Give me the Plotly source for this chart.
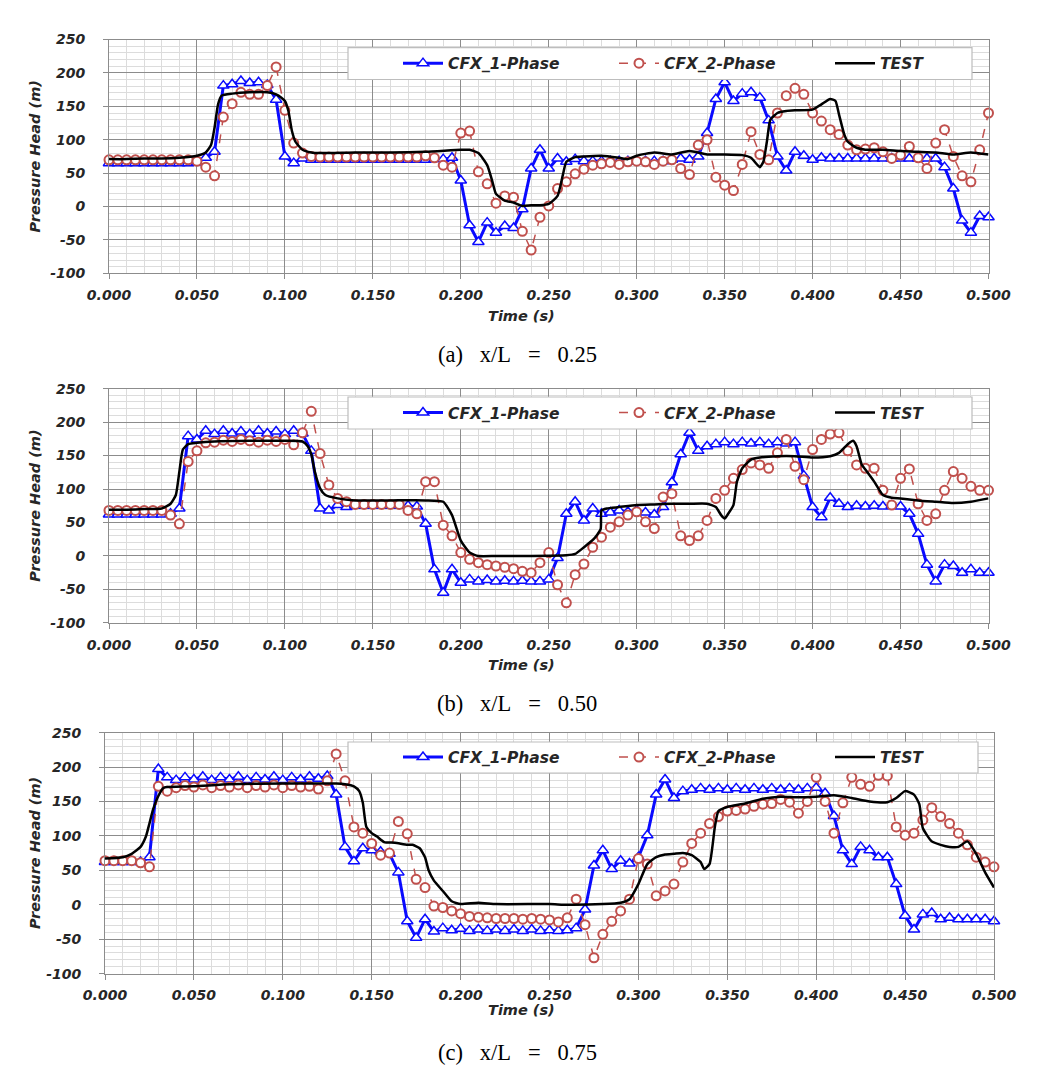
import plotly.graph_objects as go

# ---------------- data ----------------
cfx_time = [round(i * 0.005, 3) for i in range(101)]

blue_a = [65, 65, 65, 65, 65, 65, 65, 65, 65, 65, 66,
          73, 82, 181, 183, 188, 185, 186, 182, 160, 75, 65, 72,
          70, 70, 70, 70, 70, 70, 70, 70, 70, 70, 70, 70, 70, 70, 71, 71,
          73, 39, -28, -53, -24, -39, -29, -32, -4, 57, 85, 57, 72, 67, 71,
          68, 68, 68, 68, 68, 68, 68, 68, 68, 68, 70, 72,
          70, 75, 110, 161, 186, 158, 169, 171, 163, 129, 75, 54, 82, 76, 70, 73,
          72, 72, 72, 72, 72, 72, 72, 72, 72, 72, 72, 72, 72,
          59, 27, -21, -39, -14, -16]
red_a = [70, 70, 70, 70, 70, 70, 70, 70, 70, 70, 68,
         59, 46, 134, 154, 171, 168, 168, 181, 209, 144, 95, 80, 75,
         74, 74, 74, 74, 74, 74, 74, 74, 74, 74, 74, 74, 76,
         73, 62, 59, 110, 113, 52, 34, 5, 16, 14, -37, -65, -16, 1, 27, 37, 49, 56, 62, 64,
         66, 63, 67, 68, 67, 63, 68, 70, 57, 48, 92, 100, 44, 32, 24, 63, 112, 78, 70,
         140, 166, 177, 168, 140, 128, 115, 108, 92, 85, 86, 88, 82, 72, 77, 90, 73, 57,
         95, 115, 75, 46, 37, 85, 140]
test_a_t = [0, 0.01, 0.02, 0.03, 0.04, 0.05, 0.055, 0.058, 0.06, 0.062, 0.064, 0.07, 0.08, 0.09,
            0.095, 0.098, 0.1, 0.102, 0.104, 0.106, 0.11, 0.115, 0.12, 0.14, 0.16, 0.18, 0.2,
            0.205, 0.21, 0.215, 0.218, 0.22, 0.225, 0.23, 0.235, 0.24, 0.245, 0.25, 0.255, 0.258,
            0.26, 0.265, 0.27, 0.28, 0.29, 0.295, 0.3, 0.31, 0.32, 0.33, 0.34, 0.35, 0.36, 0.365,
            0.37, 0.372, 0.374, 0.376, 0.38, 0.385, 0.39, 0.4, 0.405, 0.41, 0.413, 0.415, 0.418,
            0.42, 0.425, 0.43, 0.44, 0.45, 0.46, 0.47, 0.48, 0.49, 0.5]
test_a_v = [71, 71, 72, 72, 73, 76, 81, 92, 118, 153, 166, 169, 171, 171,
            168, 163, 158, 143, 113, 97, 85, 81, 80, 81, 81, 82, 85,
            85, 80, 62, 37, 19, 9, 6, 1, 2, 2, 4, 16, 47,
            67, 74, 75, 76, 73, 71, 76, 81, 78, 83, 78, 78, 77, 73,
            59, 67, 97, 130, 140, 143, 144, 145, 153, 161, 158, 138, 108,
            97, 88, 85, 85, 83, 82, 81, 78, 81, 78]

blue_b = [62, 62, 62, 62, 62, 62, 62, 63,
          71, 179, 174, 187,
          182, 187, 183, 186, 182, 187, 183, 186, 182, 187, 183,
          157, 71, 68, 76, 73,
          75, 75, 75, 75, 75, 75, 75, 74,
          48, -20, -55, -20, -40,
          -35, -38, -36, -38, -37, -38, -37, -38, -38, -35,
          -3, 63, 81, 53, 71, 63,
          65, 68, 66, 68, 65, 62,
          73, 110, 152, 184, 157, 164,
          167, 170, 167, 170, 168, 170, 167, 170, 168, 170,
          120, 73, 58, 87, 78, 73,
          75, 74, 75, 74, 75, 74,
          63, 33, -13, -38, -13, -15, -25, -20, -25, -25]
red_b = [68, 68, 68, 68, 68, 68, 68,
         61, 48, 141, 157, 169,
         170, 173, 171, 174, 172, 170, 173, 171, 174,
         166, 184, 216, 153, 106, 86, 81,
         77, 77, 77, 77, 77, 77,
         68, 63, 111, 111, 46, 30, 5, -5, -10, -13, -15, -17, -19, -23, -25, -10, 5,
         -43, -70, -28, -12, 13, 28, 43, 51, 61, 66, 51, 41, 88, 93, 30, 23, 30, 53, 86,
         98, 116, 129, 139, 136, 131, 154, 174, 134, 114, 159, 174, 182, 184, 157, 136,
         131, 131, 98, 76, 116, 130, 78, 53, 63, 98, 126, 116, 104, 98, 98]
test_b_t = [0, 0.01, 0.02, 0.03, 0.035, 0.038, 0.04, 0.042, 0.045, 0.05, 0.06, 0.08, 0.1, 0.11,
            0.113, 0.115, 0.117, 0.12, 0.123, 0.13, 0.14, 0.16, 0.18, 0.19, 0.195, 0.2, 0.205,
            0.21, 0.22, 0.24, 0.26, 0.265, 0.27, 0.2755, 0.2795, 0.28, 0.283, 0.29, 0.3, 0.31,
            0.32, 0.33, 0.34, 0.345, 0.348, 0.35, 0.352, 0.355, 0.357, 0.36, 0.365, 0.37, 0.38,
            0.39, 0.4, 0.41, 0.415, 0.42, 0.423, 0.425, 0.428, 0.43, 0.435, 0.44, 0.445, 0.45,
            0.46, 0.47, 0.48, 0.49, 0.5]
test_b_v = [69, 69, 70, 71, 78, 91, 126, 159, 167, 169, 171, 172, 172, 171,
            164, 152, 126, 101, 91, 86, 83, 83, 83, 81, 61, 23, 5,
            0, 0, 0, 1, 3, 13, 25, 40, 68, 71, 73, 76, 77,
            78, 78, 78, 73, 61, 56, 63, 76, 111, 131, 144, 147, 149,
            149, 147, 149, 154, 167, 172, 164, 136, 129, 111, 91, 87, 86,
            83, 81, 79, 81, 86]

blue_c = [62, 62, 62, 62, 62,
          69, 197, 185,
          181, 185, 182, 186, 181, 185, 182, 186, 181, 185, 182, 186, 181, 185, 182, 186, 183,
          187, 160, 84, 63, 82, 79, 77, 74, 47, -24, -48, -21, -39, -34,
          -37, -35, -38, -36, -38, -36, -38, -36, -38, -36, -38, -37, -38, -37,
          -34, -7, 57, 79, 52, 64, 60, 69, 101, 160, 182, 155, 165,
          167, 169, 167, 169, 167, 169, 167, 169, 167, 169, 167, 169, 167, 169,
          170, 162, 129, 79, 59, 84, 79, 69, 69, 30, -16, -36, -14, -12, -21, -19, -21,
          -21, -21, -21, -24]
red_c = [64, 64, 64, 64,
         61, 55, 172, 165,
         170, 173, 171, 174, 170, 173, 171, 174, 170, 173, 171, 174, 170, 173, 171, 172,
         168, 180, 219, 180, 113, 104, 89, 72, 75, 121, 103, 37, 25, -2, -4, -9, -13,
         -17, -18, -19, -20, -20, -20, -21, -20, -21, -22, -25,
         -19, 8, -29, -77, -43, -24, -9, 8, 67, 59, 13, 20, 30, 62, 89, 104, 118, 128,
         136, 137, 139, 143, 146, 147, 153, 149, 133, 150, 185, 150, 104, 148, 185, 175,
         172, 188, 187, 113, 101, 104, 123, 141, 128, 118, 104, 87, 69, 62, 55]
test_c_t = [0, 0.01, 0.015, 0.02, 0.023, 0.025, 0.027, 0.03, 0.033, 0.035, 0.05, 0.07, 0.1,
            0.13, 0.135, 0.14, 0.143, 0.145, 0.147, 0.15, 0.153, 0.157, 0.163, 0.17, 0.173,
            0.177, 0.18, 0.182, 0.185, 0.19, 0.195, 0.2, 0.21, 0.22, 0.25, 0.26, 0.28, 0.29,
            0.295, 0.3, 0.305, 0.31, 0.315, 0.32, 0.325, 0.33, 0.335, 0.337, 0.34, 0.343,
            0.345, 0.35, 0.36, 0.37, 0.38, 0.39, 0.4, 0.41, 0.42, 0.43, 0.44, 0.445, 0.45,
            0.455, 0.458, 0.46, 0.465, 0.47, 0.475, 0.48, 0.485, 0.49, 0.495, 0.5]
test_c_v = [67, 69, 74, 84, 99, 118, 138, 158, 170, 171, 172, 175, 176,
            176, 175, 172, 165, 148, 113, 104, 99, 91, 90, 87, 87,
            82, 69, 50, 35, 20, 5, 1, 3, 1, 1, 0, 1, 3,
            8, 30, 59, 69, 73, 74, 75, 72, 62, 52, 59, 113,
            136, 142, 147, 154, 157, 156, 157, 159, 155, 150, 149, 155, 165,
            160, 146, 111, 92, 87, 84, 84, 92, 74, 47, 25]

series_names = ["CFX_1-Phase", "CFX_2-Phase", "TEST"]
SP = "\u00a0\u00a0\u00a0"
captions = ["(a)" + SP + "x/L" + SP + "=" + SP + "0.25",
            "(b)" + SP + "x/L" + SP + "=" + SP + "0.50",
            "(c)" + SP + "x/L" + SP + "=" + SP + "0.75"]
x_ticks = [0.0, 0.05, 0.1, 0.15, 0.2, 0.25, 0.3, 0.35, 0.4, 0.45, 0.5]
x_tick_text = ["0.000", "0.050", "0.100", "0.150", "0.200", "0.250",
               "0.300", "0.350", "0.400", "0.450", "0.500"]
y_ticks = [-100, -50, 0, 50, 100, 150, 200, 250]
y_tick_text = ["-100", "-50", "0", "50", "100", "150", "200", "250"]

for a, b in [(blue_a, red_a), (blue_b, red_b), (blue_c, red_c)]:
    assert len(a) == 101 and len(b) == 101, (len(a), len(b))
for t, v in [(test_a_t, test_a_v), (test_b_t, test_b_v), (test_c_t, test_c_v)]:
    assert len(t) == len(v), (len(t), len(v))

# ---------------- layout helpers ----------------
# the page body has an 8px margin, so the figure starts at page pixel (8, 8)
OFF = 8
W, H = 1055 - 2 * OFF, 1084 - 2 * OFF


def fx(p):
    return (p - OFF) / W


def fy(p):
    return 1 - (p - OFF) / H


panels = [
    dict(blue=blue_a, red=red_a, tt=test_a_t, tv=test_a_v,
         xd=(109, 988.5), yd=(39.5, 273.4), box=(348, 47.6, 972, 79.5),
         cap=355, time_y=316),
    dict(blue=blue_b, red=red_b, tt=test_b_t, tv=test_b_v,
         xd=(109, 988.5), yd=(388.6, 622.9), box=(348, 397, 972, 429),
         cap=703, time_y=665),
    dict(blue=blue_c, red=red_c, tt=test_c_t, tv=test_c_v,
         xd=(105, 994), yd=(732.6, 973.6), box=(348, 742, 978, 773),
         cap=1052, time_y=1010),
]

TICKFONT = dict(family="DejaVu Sans", size=14, color="#262626", weight="bold", style="italic")
TITLEFONT = dict(family="DejaVu Sans", size=14.5, color="#262626", weight="bold", style="italic")
LEGFONT = dict(family="DejaVu Sans", size=15.5, color="#262626", weight="bold", style="italic")

fig = go.Figure()
layout = dict(width=W, height=H,
              margin=dict(l=0, r=0, t=0, b=0, autoexpand=False),
              paper_bgcolor="white", plot_bgcolor="white", showlegend=True)
annotations = []
shapes = []

for k, p in enumerate(panels):
    n = "" if k == 0 else str(k + 1)
    xa, ya = "x" + n, "y" + n
    leg = "legend" + n
    fig.add_trace(go.Scatter(
        x=cfx_time, y=p["blue"], name=series_names[0], mode="lines+markers",
        xaxis=xa, yaxis=ya, legend=leg, cliponaxis=False,
        line=dict(color="#0a0aff", width=3),
        marker=dict(symbol="triangle-up", size=10, color="white",
                    line=dict(color="#0a0aff", width=1.5))))
    fig.add_trace(go.Scatter(
        x=cfx_time, y=p["red"], name=series_names[1], mode="lines+markers",
        xaxis=xa, yaxis=ya, legend=leg, cliponaxis=False,
        line=dict(color="#c0504d", width=1.5, dash="dash"),
        marker=dict(symbol="circle", size=9, color="white",
                    line=dict(color="#c0504d", width=2))))
    fig.add_trace(go.Scatter(
        x=p["tt"], y=p["tv"], name=series_names[2], mode="lines",
        xaxis=xa, yaxis=ya, legend=leg,
        line=dict(color="black", width=2.5, shape="spline", smoothing=0.5)))

    layout["xaxis" + n] = dict(
        domain=[fx(p["xd"][0]), fx(p["xd"][1])], anchor=ya, range=[0, 0.5],
        tickvals=x_ticks, ticktext=x_tick_text, tickfont=TICKFONT,
        showgrid=True, gridcolor="#8c8c8c", gridwidth=1,
        minor=dict(dtick=0.01, tick0=0, showgrid=True, gridcolor="#dcdcdc", ticks=""),
        ticks="outside", ticklen=5, tickcolor="#8c8c8c",
        showline=True, linecolor="#8c8c8c", mirror=True, zeroline=False,
        ticklabelstandoff=4, automargin=False)
    layout["yaxis" + n] = dict(
        domain=[fy(p["yd"][1]), fy(p["yd"][0])], anchor=xa, range=[-100, 250],
        tickvals=y_ticks, ticktext=y_tick_text, tickfont=TICKFONT,
        showgrid=True, gridcolor="#8c8c8c", gridwidth=1,
        minor=dict(dtick=10, tick0=0, showgrid=True, gridcolor="#dcdcdc", ticks=""),
        ticks="outside", ticklen=5, tickcolor="#8c8c8c",
        showline=True, linecolor="#8c8c8c", mirror=True, zeroline=False,
        ticklabelstandoff=15, automargin=False)

    bx0, by0, bx1, by1 = p["box"]
    shapes.append(dict(type="rect", xref="paper", yref="paper", layer="above",
                       x0=fx(bx0), x1=fx(bx1), y0=fy(by1), y1=fy(by0),
                       fillcolor="white", line=dict(color="#bdbdbd", width=1.2)))
    layout[leg] = dict(orientation="h", x=fx(bx0 + 50), xanchor="left",
                       y=fy((by0 + by1) / 2), yanchor="middle",
                       bgcolor="rgba(0,0,0,0)", borderwidth=0, font=LEGFONT,
                       entrywidth=161, entrywidthmode="pixels", itemwidth=40,
                       tracegroupgap=0)

    annotations.append(dict(text="Pressure Head (m)", xref="paper", yref="paper",
                            x=fx(35), y=fy((p["yd"][0] + p["yd"][1]) / 2),
                            textangle=-90, showarrow=False, font=TITLEFONT,
                            xanchor="center", yanchor="middle"))
    annotations.append(dict(text="Time (s)", xref="paper", yref="paper",
                            x=fx(521), y=fy(p["time_y"]), showarrow=False,
                            font=TITLEFONT, xanchor="center", yanchor="middle"))
    annotations.append(dict(text=captions[k], xref="paper", yref="paper",
                            x=fx(517), y=fy(p["cap"]), showarrow=False,
                            font=dict(family="Liberation Serif", size=22.5, color="black"),
                            xanchor="center", yanchor="middle"))

layout["annotations"] = annotations
layout["shapes"] = shapes
fig.update_layout(**layout)
fig.write_html("out.html")
